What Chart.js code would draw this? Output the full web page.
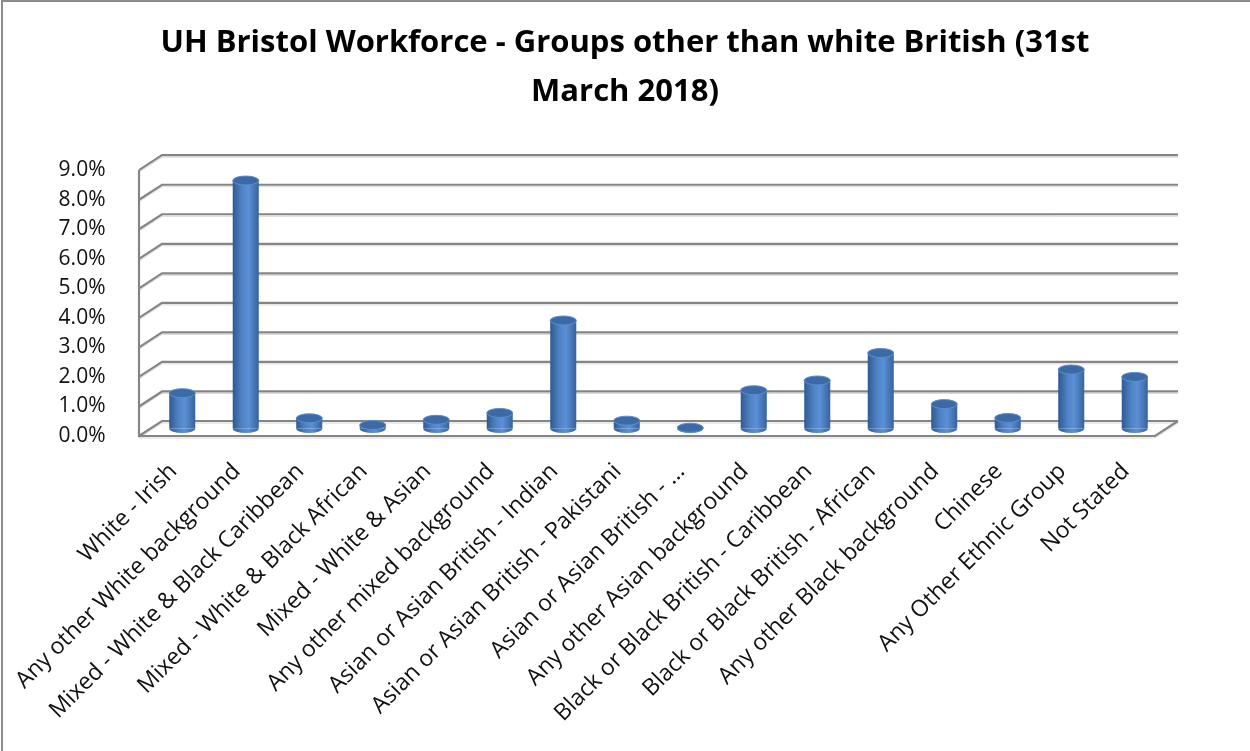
<!DOCTYPE html>
<html>
<head>
<meta charset="utf-8">
<title>UH Bristol Workforce - Groups other than white British</title>
<script src="https://cdn.jsdelivr.net/npm/chart.js@4.4.1/dist/chart.umd.min.js"></script>
<style>
    html, body { margin: 0; padding: 0; background: #fff; }
    #wrap { width: 1250px; height: 751px; }
</style>
</head>
<body>
<div id="wrap"><canvas id="workforceChart" width="1250" height="751"></canvas></div>
<script>
// Groups (x categories)
const groupLabels = [
    'White - Irish',
    'Any other White background',
    'Mixed - White & Black Caribbean',
    'Mixed - White & Black African',
    'Mixed - White & Asian',
    'Any other mixed background',
    'Asian or Asian British - Indian',
    'Asian or Asian British - Pakistani',
    'Asian or Asian British - ...',
    'Any other Asian background',
    'Black or Black British - Caribbean',
    'Black or Black British - African',
    'Any other Black background',
    'Chinese',
    'Any Other Ethnic Group',
    'Not Stated'
];

// Share of workforce, in percent
const workforcePct = [1.2, 8.4, 0.35, 0.12, 0.3, 0.53, 3.66, 0.27, 0.03, 1.3, 1.63, 2.56, 0.83, 0.36, 2.0, 1.75];

// Axis ticks
const yTickValues = [0, 1, 2, 3, 4, 5, 6, 7, 8, 9];

const chartTitle = ['UH Bristol Workforce - Groups other than white British (31st', 'March 2018)'];

// 3D box look: offset from front edge to back wall
const DEPTH_X = 23;
const DEPTH_Y = -15;
const BAR_LIFT = 0.25;     // bars stand half way into the box (value units)
const BAR_FRACTION = 0.41;
const FONT = "'Open Sans', 'DejaVu Sans', sans-serif";

/**
 * Horizontal shading so a flat bar reads as a cylinder
 */
function cylinderGradient(ctx, cx, half) {
    const g = ctx.createLinearGradient(cx - half, 0, cx + half, 0);
    g.addColorStop(0, '#2d5a91');
    g.addColorStop(0.35, '#4f82c4');
    g.addColorStop(0.6, '#5b90d6');
    g.addColorStop(1, '#36639d');
    return g;
}

// Draws the walls, gridlines and floor of the 3D box
const box3dPlugin = {
    id: 'box3d',
    beforeDraw(chart) {
        const ctx = chart.ctx;
        ctx.save();
        ctx.fillStyle = '#fff';
        ctx.fillRect(0, 0, chart.width, chart.height);
        // outer frame
        ctx.strokeStyle = '#8c8c8c';
        ctx.lineWidth = 2;
        ctx.beginPath();
        ctx.moveTo(2, chart.height);
        ctx.lineTo(2, 1);
        ctx.lineTo(chart.width, 1);
        ctx.stroke();
        ctx.restore();
    },
    beforeDatasetsDraw(chart) {
        const ctx = chart.ctx;
        const ys = chart.scales.y;
        const area = chart.chartArea;
        const frontL = area.left - DEPTH_X / 2;
        const frontR = area.right - DEPTH_X / 2;
        const y0 = ys.getPixelForValue(0);
        const yTop = ys.getPixelForValue(yTickValues[yTickValues.length - 1]);

        const drawLines = (color, width, dy) => {
            ctx.strokeStyle = color;
            ctx.lineWidth = width;
            ctx.beginPath();
            yTickValues.forEach(v => {
                const yF = ys.getPixelForValue(v) + dy;
                ctx.moveTo(frontL, yF);
                ctx.lineTo(frontL + DEPTH_X, yF + DEPTH_Y);
                ctx.lineTo(frontR + DEPTH_X, yF + DEPTH_Y);
            });
            ctx.moveTo(frontL, yTop + dy);
            ctx.lineTo(frontL, y0 + dy);
            ctx.lineTo(frontR, y0 + dy);
            ctx.lineTo(frontR + DEPTH_X, y0 + DEPTH_Y + dy);
            ctx.stroke();
        };

        ctx.save();
        drawLines('#d9d9d9', 1, 2);
        drawLines('#858585', 2.2, 0);
        ctx.restore();
    },
    afterDatasetsDraw(chart) {
        const ctx = chart.ctx;
        const meta = chart.getDatasetMeta(0);
        ctx.save();
        meta.data.forEach(bar => {
            const p = bar.getProps(['x', 'y', 'base', 'width'], true);
            const rx = p.width / 2;
            const ry = 4.5;
            // rounded bottom of the cylinder
            ctx.fillStyle = cylinderGradient(ctx, p.x, rx);
            ctx.beginPath();
            ctx.ellipse(p.x, p.base, rx, ry, 0, 0, Math.PI);
            ctx.fill();
            // top cap
            ctx.fillStyle = '#3c6aa6';
            ctx.strokeStyle = '#5c8dcf';
            ctx.lineWidth = 1;
            ctx.beginPath();
            ctx.ellipse(p.x, p.y, rx, ry, 0, 0, Math.PI * 2);
            ctx.fill();
            ctx.stroke();
        });
        ctx.restore();
    }
};

const ctx = document.getElementById('workforceChart');

new Chart(ctx, {
    type: 'bar',
    data: {
        labels: groupLabels,
        datasets: [{
            label: 'Workforce %',
            data: workforcePct,
            yAxisID: 'yb',
            borderWidth: 0,
            categoryPercentage: 1,
            barPercentage: BAR_FRACTION,
            backgroundColor: function(c) {
                const xs = c.chart.scales.x;
                if (!xs || c.dataIndex === undefined) return '#4f81bd';
                const cx = xs.getPixelForValue(c.dataIndex);
                const half = xs.width / groupLabels.length * BAR_FRACTION / 2;
                if (!isFinite(cx) || !isFinite(half) || half <= 0) return '#4f81bd';
                return cylinderGradient(c.chart.ctx, cx, half);
            }
        }]
    },
    options: {
        responsive: false,
        animation: false,
        devicePixelRatio: 1,
        layout: { padding: 0 },
        plugins: {
            legend: { display: false },
            tooltip: { enabled: false },
            title: {
                display: true,
                text: chartTitle,
                color: '#000',
                font: { family: FONT, size: 31, weight: 'bold', lineHeight: 1.6 },
                padding: { top: 18, bottom: 53 }
            }
        },
        scales: {
            x: {
                offset: true,
                grid: { display: false },
                border: { display: false },
                ticks: {
                    autoSkip: false,
                    minRotation: 45,
                    maxRotation: 45,
                    padding: 14,
                    labelOffset: -9,
                    color: '#111',
                    font: { family: FONT, size: 23 }
                },
                afterFit(scale) { scale.height = 315; }
            },
            y: {
                position: 'left',
                min: 0,
                max: 9,
                grid: { display: false },
                border: { display: false },
                ticks: {
                    stepSize: 1,
                    padding: 37,
                    color: '#111',
                    font: { family: FONT, size: 21 },
                    callback: v => v.toFixed(1) + '%'
                },
                afterFit(scale) { scale.width = 150.5; }
            },
            yb: {
                display: false,
                min: -BAR_LIFT,
                max: 9 - BAR_LIFT
            },
            pad: {
                type: 'linear',
                position: 'right',
                display: true,
                grid: { display: false },
                border: { display: false },
                ticks: { display: false },
                afterFit(scale) { scale.width = 83.5; }
            }
        }
    },
    plugins: [box3dPlugin]
});
</script>
</body>
</html>
